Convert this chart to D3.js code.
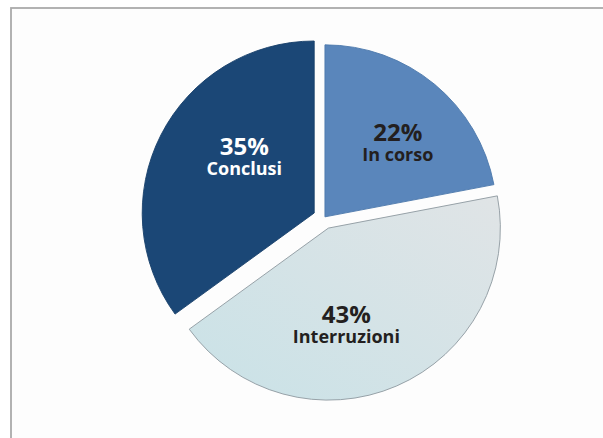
<!DOCTYPE html>
<html>
<head>
<meta charset="utf-8">
<script src="https://cdn.jsdelivr.net/npm/d3@7"></script>
<style>
  html, body { margin: 0; padding: 0; background: #fff; }
  svg { display: block; }
</style>
</head>
<body>
<script>
// slice data, clockwise from 12 o'clock
var categories = ['In corso', 'Interruzioni', 'Conclusi'];
var values = [22, 43, 35];
var percentLabels = ['22%', '43%', '35%'];

var width = 603;
var height = 438;

var fills = ['#5a86bb', 'url(#gradInterr)', '#1b4776'];
var strokes = ['#4c78ab', '#8d999f', '#173f6a'];
var textColors = ['#231f20', '#231f20', '#ffffff'];
var explode = [1.5, 11, 11];
// small nudges so labels sit where they do in the original
var labelNudge = [[7, 10], [-23, 6], [22, -5]];

var svg = d3.select('body').append('svg')
    .attr('width', width)
    .attr('height', height);

var defs = svg.append('defs');
var grad = defs.append('linearGradient')
    .attr('id', 'gradInterr')
    .attr('x1', '0%').attr('y1', '100%')
    .attr('x2', '100%').attr('y2', '0%');
grad.append('stop').attr('offset', '0%').attr('stop-color', '#c9e2e7');
grad.append('stop').attr('offset', '100%').attr('stop-color', '#e0e4e6');

// framed panel (cropped at right and bottom)
svg.append('rect')
    .attr('x', 11).attr('y', 8)
    .attr('width', width).attr('height', height)
    .attr('fill', '#fdfdfd')
    .attr('stroke', '#aaaaaa')
    .attr('stroke-width', 1.8);

var cx = 324;
var cy = 218;
var radius = 172;

var pie = d3.pie().sort(null).value(function(d) { return d; });
var arcs = pie(values);

var arc = d3.arc().innerRadius(0).outerRadius(radius);
var labelArc = d3.arc().innerRadius(0).outerRadius(radius * 1.2);

var g = svg.append('g').attr('transform', 'translate(' + cx + ',' + cy + ')');

var slice = g.selectAll('.slice')
    .data(arcs)
    .enter()
    .append('g')
    .attr('class', 'slice')
    .attr('transform', function(d, i) {
        var mid = (d.startAngle + d.endAngle) / 2;
        return 'translate(' + (Math.sin(mid) * explode[i]) + ',' + (-Math.cos(mid) * explode[i]) + ')';
    });

slice.append('path')
    .attr('d', arc)
    .attr('fill', function(d, i) { return fills[i]; })
    .attr('stroke', function(d, i) { return strokes[i]; })
    .attr('stroke-width', 0.9);

var label = slice.append('g')
    .attr('transform', function(d, i) {
        var c = labelArc.centroid(d);
        return 'translate(' + (c[0] + labelNudge[i][0]) + ',' + (c[1] + labelNudge[i][1]) + ')';
    })
    .attr('font-family', '"Open Sans", "Noto Sans", sans-serif')
    .attr('font-weight', 'bold')
    .attr('text-anchor', 'middle')
    .attr('fill', function(d, i) { return textColors[i]; });

label.append('text')
    .attr('y', -6)
    .attr('font-size', 24)
    .text(function(d, i) { return percentLabels[i]; });

label.append('text')
    .attr('y', 14)
    .attr('font-size', 18)
    .text(function(d, i) { return categories[i]; });
</script>
</body>
</html>
